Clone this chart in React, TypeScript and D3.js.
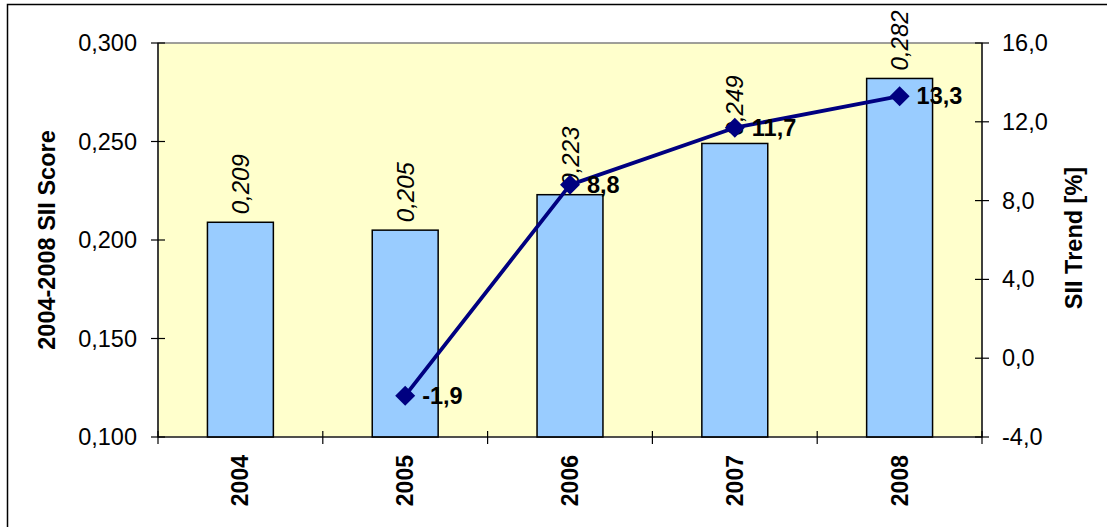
import React from "react";
import * as d3 from "d3";

// SII scores per year (bars, left axis) and yearly trend in percent (line, right axis)
const years = ["2004", "2005", "2006", "2007", "2008"];
const scores = [0.209, 0.205, 0.223, 0.249, 0.282];
const trendYears = ["2005", "2006", "2007", "2008"];
const trend = [-1.9, 8.8, 11.7, 13.3];
const leftTicks = [0.1, 0.15, 0.2, 0.25, 0.3];
const rightTicks = [-4, 0, 4, 8, 12, 16];

const W = 1107;
const H = 527;
const plot = { left: 158, right: 982, top: 43, bottom: 437 };
const FONT = "Liberation Sans, Arial, sans-serif";

const fmt = (v: number, digits: number) => v.toFixed(digits).replace(".", ",");

export default function App() {
  const x = d3
    .scaleBand<string>()
    .domain(years)
    .range([plot.left, plot.right])
    .paddingInner(0)
    .paddingOuter(0);
  const yL = d3.scaleLinear().domain([0.1, 0.3]).range([plot.bottom, plot.top]);
  const yR = d3.scaleLinear().domain([-4, 16]).range([plot.bottom, plot.top]);

  const bw = x.bandwidth() * 0.4;
  const cx = (yr: string) => (x(yr) as number) + x.bandwidth() / 2;

  const lineData = trendYears.map((yr, i) => ({ yr, v: trend[i] }));
  const line = d3
    .line<{ yr: string; v: number }>()
    .x((d) => cx(d.yr))
    .y((d) => yR(d.v));

  const boundaries = d3.range(years.length + 1).map((i) => plot.left + i * x.bandwidth());
  const dm = 10;
  const midY = (plot.top + plot.bottom) / 2;

  return (
    <svg
      width={W}
      height={H}
      style={{ position: "absolute", left: 0, top: 0, background: "#fff" }}
      fontFamily={FONT}
    >
      {/* chart frame */}
      <rect x={7.5} y={4.5} width={W + 20} height={H + 20} fill="#fff" stroke="#000" strokeWidth={1.5} />

      {/* plot area */}
      <rect
        x={plot.left}
        y={plot.top}
        width={plot.right - plot.left}
        height={plot.bottom - plot.top}
        fill="#FFFFCC"
        stroke="#808080"
        strokeWidth={1.5}
      />

      {/* bars */}
      {years.map((yr, i) => (
        <rect
          key={yr}
          x={cx(yr) - bw / 2}
          y={yL(scores[i])}
          width={bw}
          height={plot.bottom - yL(scores[i])}
          fill="#99CCFF"
          stroke="#000"
          strokeWidth={1.5}
        />
      ))}

      {/* bar value labels */}
      {years.map((yr, i) => (
        <text
          key={yr}
          transform={`translate(${cx(yr)},${yL(scores[i]) - 8}) rotate(-90)`}
          textAnchor="start"
          dominantBaseline="central"
          fontSize={24}
          fontStyle="italic"
          fill="#000"
        >
          {fmt(scores[i], 3)}
        </text>
      ))}

      {/* axes lines */}
      <line x1={plot.left} x2={plot.left} y1={plot.top} y2={plot.bottom} stroke="#000" strokeWidth={1.2} />
      <line x1={plot.right} x2={plot.right} y1={plot.top} y2={plot.bottom} stroke="#000" strokeWidth={1.2} />
      <line x1={plot.left} x2={plot.right} y1={plot.bottom} y2={plot.bottom} stroke="#000" strokeWidth={1.2} />

      {/* left axis */}
      {leftTicks.map((t) => (
        <g key={t}>
          <line x1={plot.left - 7} x2={plot.left + 7} y1={yL(t)} y2={yL(t)} stroke="#000" strokeWidth={1.2} />
          <text x={137} y={yL(t)} textAnchor="end" dominantBaseline="central" fontSize={23.5} fill="#000">
            {fmt(t, 3)}
          </text>
        </g>
      ))}

      {/* right axis */}
      {rightTicks.map((t) => (
        <g key={t}>
          <line x1={plot.right - 7} x2={plot.right + 7} y1={yR(t)} y2={yR(t)} stroke="#000" strokeWidth={1.2} />
          <text x={1002} y={yR(t)} textAnchor="start" dominantBaseline="central" fontSize={23.5} fill="#000">
            {fmt(t, 1)}
          </text>
        </g>
      ))}

      {/* category axis */}
      {boundaries.map((b, i) => (
        <line key={i} x1={b} x2={b} y1={plot.bottom - 6} y2={plot.bottom + 7} stroke="#000" strokeWidth={1.2} />
      ))}
      {years.map((yr) => (
        <text
          key={yr}
          transform={`translate(${cx(yr)},${plot.bottom + 18}) rotate(-90)`}
          textAnchor="end"
          dominantBaseline="central"
          fontSize={23}
          fontWeight="bold"
          fill="#000"
        >
          {yr}
        </text>
      ))}

      {/* axis titles */}
      <text
        transform={`translate(47,${midY}) rotate(-90)`}
        textAnchor="middle"
        dominantBaseline="central"
        fontSize={23.5}
        fontWeight="bold"
        fill="#000"
      >
        2004-2008 SII Score
      </text>
      <text
        transform={`translate(1074,${midY - 2}) rotate(-90)`}
        textAnchor="middle"
        dominantBaseline="central"
        fontSize={23.5}
        fontWeight="bold"
        fill="#000"
      >
        SII Trend [%]
      </text>

      {/* trend line */}
      <path d={line(lineData) || ""} fill="none" stroke="#000080" strokeWidth={3.8} strokeLinejoin="round" />
      {lineData.map((d) => (
        <path
          key={d.yr}
          d={`M${cx(d.yr)},${yR(d.v) - dm}L${cx(d.yr) + dm},${yR(d.v)}L${cx(d.yr)},${yR(d.v) + dm}L${cx(d.yr) - dm},${yR(d.v)}Z`}
          fill="#000080"
        />
      ))}
      {lineData.map((d) => (
        <text
          key={d.yr}
          x={cx(d.yr) + 17}
          y={yR(d.v)}
          dominantBaseline="central"
          fontSize={23.5}
          fontWeight="bold"
          fill="#000"
        >
          {fmt(d.v, 1)}
        </text>
      ))}
    </svg>
  );
}
